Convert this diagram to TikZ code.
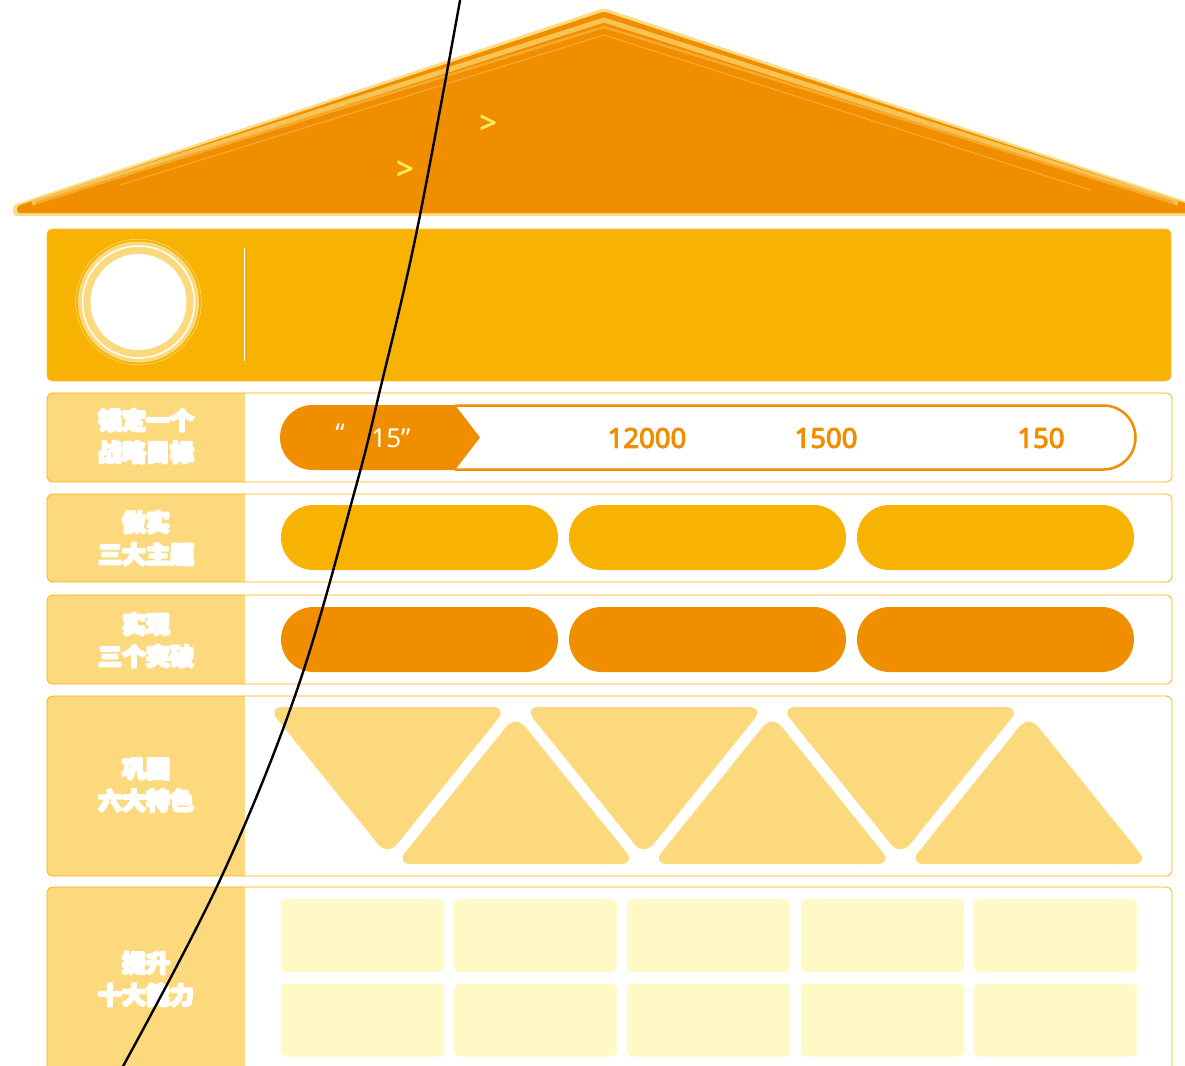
\documentclass[tikz,border=0pt]{standalone}
\usepackage{fontspec}
\newfontfamily\cjk{Noto Sans CJK SC}
\newfontfamily\numfont{Noto Sans}
\newcommand{\heavy}[2]{\special{pdf:literal direct #1 w 1 j 2 Tr}#2\special{pdf:literal direct 0 Tr}}
\definecolor{orng}{HTML}{F08E00}
\definecolor{amber}{HTML}{F7B202}
\definecolor{lite}{HTML}{FCD97C}
\definecolor{cream}{HTML}{FFF9C6}
\definecolor{band}{HTML}{F8C352}
\definecolor{bandb}{HTML}{F6A92C}
\definecolor{roofedge}{HTML}{FDDC84}
\definecolor{chev}{HTML}{FFE95C}
\tikzset{
  lbl/.style={text=white, align=center, inner sep=0pt, font=\cjk\bfseries\fontsize{24}{32}\selectfont},
  numtxt/.style={text=orng, inner sep=0pt, font=\numfont\fontsize{27.5}{30}\selectfont},
  qtxt/.style={text=white, inner sep=0pt, font=\numfont\fontsize{26}{30}\selectfont},
  chevtxt/.style={text=chev, inner sep=0pt, font=\numfont\fontsize{30}{30}\selectfont},
  pill/.style={rounded corners=32.5pt, minimum width=277pt, minimum height=65pt, inner sep=0pt},
  cell/.style={fill=cream, rounded corners=6pt, minimum width=163pt, minimum height=73pt, inner sep=0pt},
  tri/.style={fill=lite, rounded corners=15pt},
  rowborder/.style={draw=amber, line width=0.8pt, rounded corners=6pt},
}
\newcommand{\myrow}[2]{%
  \fill[white, rounded corners=6pt] (47,#1) rectangle (1172,#2);
  \begin{scope}
    \clip[rounded corners=6pt] (47,#1) rectangle (1172,#2);
    \fill[lite] (47,#1) rectangle (245,#2);
  \end{scope}
  \draw[rowborder] (47,#1) rectangle (1172,#2);
}
\begin{document}
\begin{tikzpicture}[x=1pt,y=-1pt]
\useasboundingbox (0,0) rectangle (1185,1065);
\clip (0,0) rectangle (1185,1065);

% roof
\fill[roofedge, rounded corners=4pt] (13,216) -- (13,205) -- (604,8) -- (1200,206) -- (1200,216) -- cycle;
\fill[orng, rounded corners=3pt] (17,213) -- (17,206) -- (604,11.5) -- (1200,208) -- (1200,213) -- cycle;
\draw[band, line width=5pt] (32,203) -- (604,20) -- (1178,203);
\draw[bandb, line width=2.5pt] (36,203) -- (604,27) -- (1174,203);
\draw[bandb, line width=1.2pt] (120,185) -- (604,35) -- (1090,190);
\node[chevtxt] (ch1) at (488,124) {\heavy{0.8}{>}};
\node[chevtxt] (ch2) at (405,170) {\heavy{0.8}{>}};

% header
\fill[amber, rounded corners=5pt] (47,229) rectangle (1171,381);
\draw[band, line width=0.8pt, rounded corners=5pt] (47,229) rectangle (1171,381);
\fill[lite] (138.5,302) circle (60.5);
\draw[lite, line width=0.6pt] (138.5,302) circle (62.8);
\draw[white, line width=1.5pt] (138.5,302) circle (56);
\fill[white] (138.5,302) circle (48);
\draw[white, line width=1.3pt] (244.5,248) -- (244.5,361);

% rows
\myrow{393}{482}
\myrow{494}{582}
\myrow{595}{684}
\myrow{696}{876}
\myrow{887}{1100}

\node[lbl] (l1) at (146,436) {\heavy{2.2}{锚定一个}\\\heavy{2.2}{战略目标}};
\node[lbl] (l2) at (146,538) {\heavy{2.2}{做实}\\\heavy{2.2}{三大主题}};
\node[lbl] (l3) at (146,640) {\heavy{2.2}{实现}\\\heavy{2.2}{三个突破}};
\node[lbl] (l4) at (146,785) {\heavy{2.2}{巩固}\\\heavy{2.2}{六大特色}};
\node[lbl] (l5) at (146,979) {\heavy{2.2}{提升}\\\heavy{2.2}{十大能力}};

% row 1
\draw[orng, line width=2.5pt] (455,405.5) -- (1103.5,405.5) arc[start angle=-90, end angle=90, radius=32] -- (455,469.5);
\fill[orng] (455,405) -- (480,437.5) -- (455,470) -- (312.5,470) arc[start angle=90, end angle=270, radius=32.5] -- cycle;
\node[qtxt] (q1) at (340,433) {“};
\node[qtxt] (q2) at (391,438) {15”};
\node[numtxt] (n1) at (647,438) {\heavy{1.0}{12000}};
\node[numtxt] (n2) at (826,438) {\heavy{1.0}{1500}};
\node[numtxt] (n3) at (1041,438) {\heavy{1.0}{150}};

% row 2
\node[pill, fill=amber] (p21) at (419.5,537.5) {};
\node[pill, fill=amber] (p22) at (707.5,537.5) {};
\node[pill, fill=amber] (p23) at (995.5,537.5) {};
% row 3
\node[pill, fill=orng] (p31) at (419.5,639.5) {};
\node[pill, fill=orng] (p32) at (707.5,639.5) {};
\node[pill, fill=orng] (p33) at (995.5,639.5) {};

% row 4 triangles
\foreach \c in {387.5,644,900.5}{
  \fill[tri] (\c-120,707) -- (\c+120,707) -- (\c,856) -- cycle;
}
\foreach \c in {515.75,772.25,1028.75}{
  \fill[tri] (\c,715) -- (\c+120,864) -- (\c-120,864) -- cycle;
}

% row 5 grid
\foreach \i/\x in {1/362.5,2/535.5,3/708.5,4/882.5,5/1055.5}{
  \node[cell] (ca\i) at (\x,935.5) {};
  \node[cell] (cb\i) at (\x,1020) {};
}

% curve
\coordinate (k0) at (461,-5);
\coordinate (k1) at (417,230);
\coordinate (k2) at (380,390);
\coordinate (k3) at (355,490);
\coordinate (k4) at (297,690);
\coordinate (k5) at (220,880);
\coordinate (k6) at (121,1070);
\draw[black, line width=2.4pt] plot[smooth, tension=0.6] coordinates {(k0) (k1) (k2) (k3) (k4) (k5) (k6)};
\end{tikzpicture}
\end{document}
